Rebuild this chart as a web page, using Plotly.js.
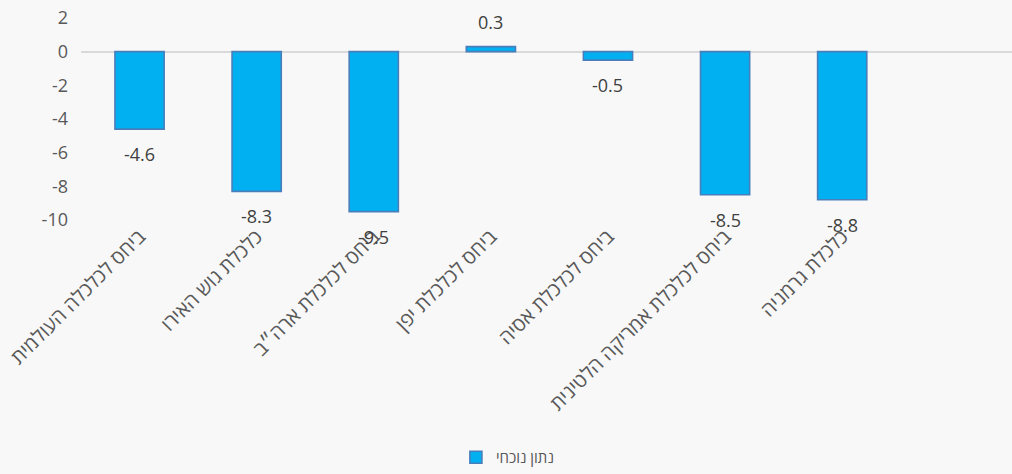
<!DOCTYPE html>
<html>
<head>
<meta charset="utf-8">
<script src="https://cdn.plot.ly/plotly-3.0.1.min.js"></script>
<style>
html,body{margin:0;padding:0;background:#f8f8f8;}
#chart{width:1012px;height:474px;}
</style>
</head>
<body>
<div id="chart"></div>
<script>
const categories = [
  "ביחס לכלכלה העולמית",
  "כלכלת גוש האירו",
  "ביחס לכלכלת ארה״ב",
  "ביחס לכלכלת יפן",
  "ביחס לכלכלת אסיה",
  "ביחס לכלכלת אמריקה הלטינית",
  "כלכלת גרמניה"
];
const values = [-4.6, -8.3, -9.5, 0.3, -0.5, -8.5, -8.8];
const seriesName = "נתון נוכחי";
const yTicks = [-10, -8, -6, -4, -2, 0, 2];

const fontFam = '"Open Sans", "Liberation Sans", "DejaVu Sans", sans-serif';
const textColor = '#595959';

const trace = {
  type: 'bar',
  x: categories,
  y: values,
  name: seriesName,
  width: 0.42,
  marker: {color: '#00b0f0', line: {color: '#4a7ebb', width: 1.6}},
  hoverinfo: 'none'
};

const annotations = values.map((v, i) => ({
  x: categories[i],
  y: v,
  xref: 'x', yref: 'y',
  text: v.toFixed(1),
  showarrow: false,
  yshift: v < 0 ? -25 : 25,
  font: {family: fontFam, size: 18, color: '#404040'}
}));

const layout = {
  width: 1012, height: 474,
  paper_bgcolor: '#f8f8f8',
  plot_bgcolor: '#f8f8f8',
  margin: {l: 81, r: 0, t: 18, b: 252},
  showlegend: true,
  legend: {
    orientation: 'h', x: 0.458, xanchor: 'center', y: -1.176, yanchor: 'middle',
    font: {family: fontFam, size: 15, color: textColor},
    itemwidth: 30
  },
  xaxis: {
    type: 'category',
    range: [-0.5, 7.45],
    tickangle: -45,
    showgrid: false, showline: false, zeroline: false,
    ticks: '',
    automargin: false,
    tickfont: {family: fontFam, size: 20, color: textColor}
  },
  yaxis: {
    range: [-10, 2],
    tickvals: yTicks,
    ticktext: yTicks.map(String),
    showgrid: false, showline: false,
    zeroline: true, zerolinecolor: '#d9d9d9', zerolinewidth: 2,
    ticks: '',
    automargin: false,
    ticklabelstandoff: 12,
    tickfont: {family: fontFam, size: 18, color: textColor}
  },
  annotations: annotations,
  bargap: 0.58
};

Plotly.newPlot('chart', [trace], layout, {displayModeBar: false, staticPlot: true});
</script>
</body>
</html>
